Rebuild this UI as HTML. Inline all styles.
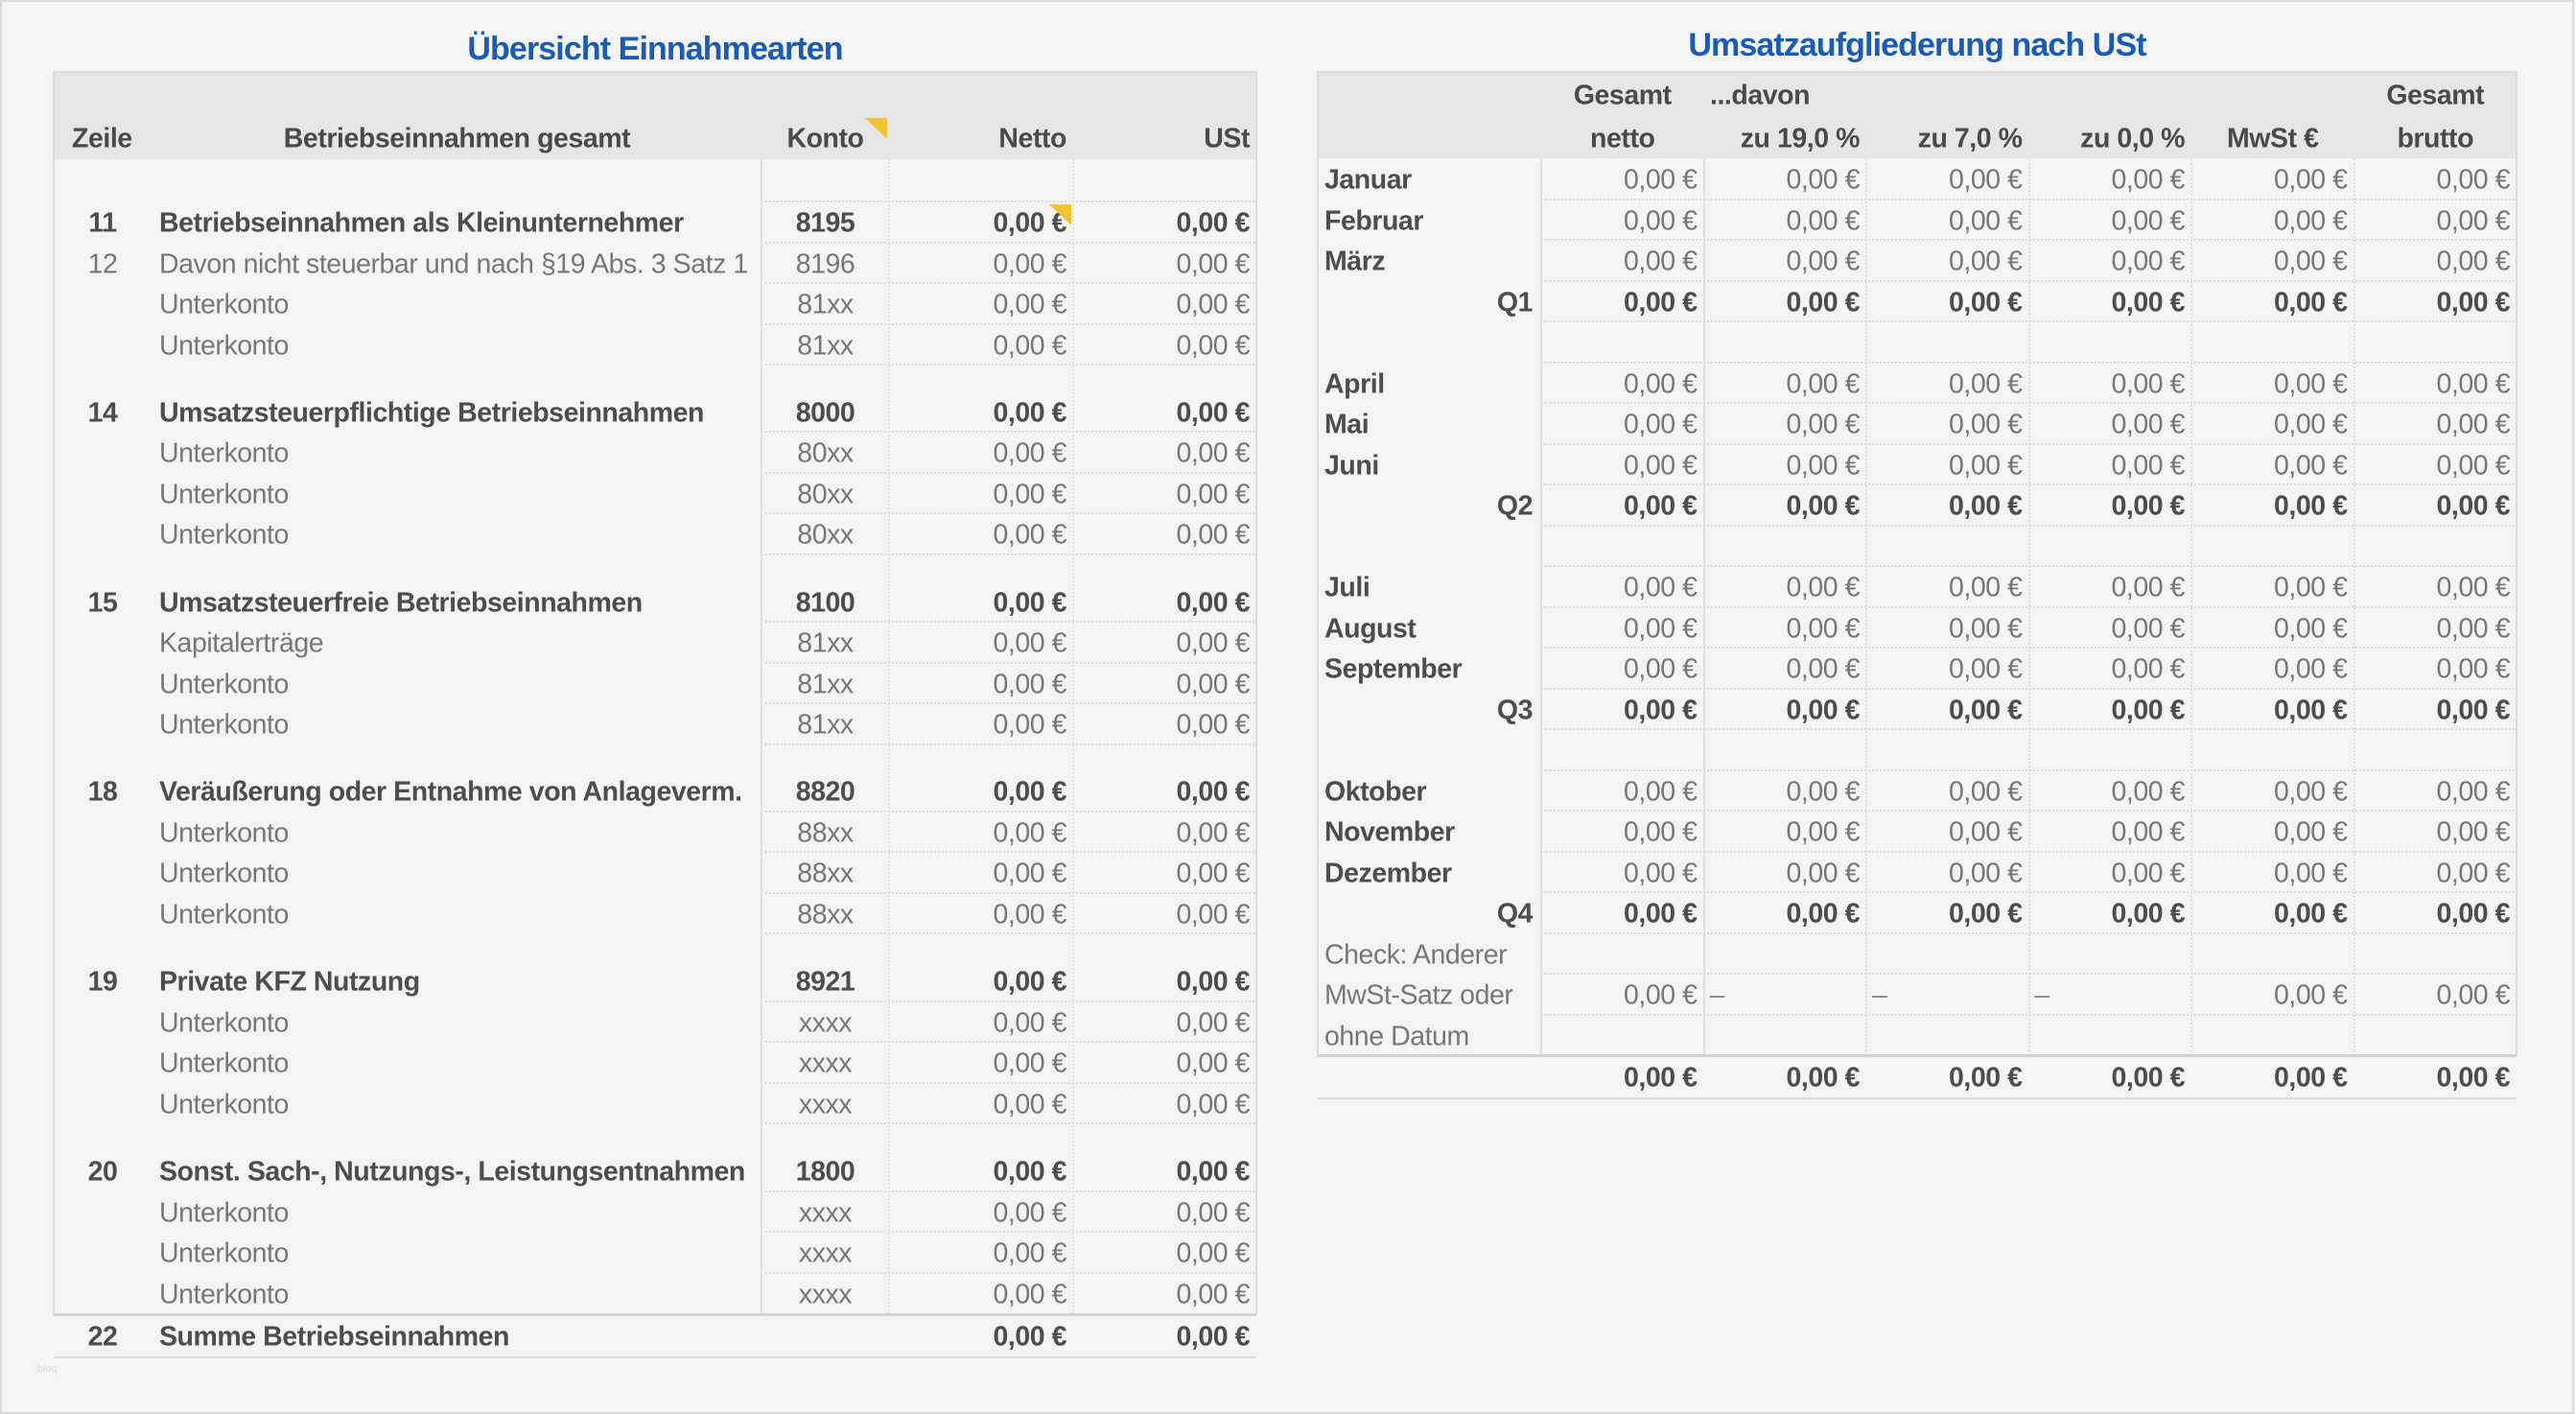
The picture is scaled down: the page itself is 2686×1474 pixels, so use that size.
<!DOCTYPE html>
<html lang="de">
<head>
<meta charset="utf-8">
<title>Übersicht Einnahmearten / Umsatzaufgliederung</title>
<style>
  html,body{margin:0;padding:0;}
  body{width:2686px;height:1474px;background:#f4f4f4;position:relative;overflow:hidden;
       font-family:"Liberation Sans",Arial,sans-serif;}
  .a{position:absolute;}
  .frame{position:absolute;left:0;top:0;width:2684px;height:1474px;box-sizing:border-box;border:2px solid #dadada;}
  .title{position:absolute;top:27px;height:40px;line-height:40px;font-size:34px;font-weight:bold;color:#1a5bb5;
         letter-spacing:-0.9px;text-align:center;white-space:nowrap;}
  .hdrbg{position:absolute;background:#e6e6e6;}
  .box{position:absolute;box-sizing:border-box;border:2px solid #dcdcdc;border-bottom:none;}
  .hl{position:absolute;height:0;border-top:2px solid #d3d3d3;}
  .hl2{position:absolute;height:0;border-top:2px solid #dcdcdc;}
  .dot{position:absolute;height:0;border-top:2px dotted #dcdcdc;}
  .vs{position:absolute;width:0;border-left:2px solid #e0e0e0;}
  .vd{position:absolute;width:0;border-left:2px dotted #e0e0e0;}
  .tri{position:absolute;width:0;height:0;border-top:22px solid #f4c233;border-left:23px solid transparent;}

  .L,.R,.H{position:absolute;height:42.5px;line-height:42.5px;font-size:28.5px;letter-spacing:-0.45px;white-space:nowrap;
     transform:translateY(1.5px);}
  .L{left:56px;width:1254px;display:grid;grid-template-columns:110px 628px 133px 192px 191px;}
  .R{left:1374px;width:1250px;display:grid;grid-template-columns:233px repeat(6,169.5px);}
  .L span,.R span{display:block;box-sizing:border-box;overflow:visible;}
  .z{text-align:center;padding-right:8px;}
  .k{text-align:center;}
  .v{text-align:right;padding-right:7px;}
  .ml{padding-left:7px;}
  .ql{text-align:right;padding-right:9px;}
  .rv{text-align:right;padding-right:7px;}
  .dl{padding-left:6px;color:#8a8a8a !important;font-weight:normal;}
  .b{font-weight:bold;color:#4d4d4d;}
  .n{color:#777;}
  .H span{position:absolute;top:0;font-weight:bold;color:#4a4a4a;}
  .H{left:0;width:2686px;}
  .tiny{position:absolute;left:39px;top:1421px;font-size:11px;color:#dcdcdc;}
</style>
</head>
<body>
<div class="frame"></div>

<!-- Titles -->
<div class="title" style="left:56px;width:1254px;top:31px;">Übersicht Einnahmearten</div>
<div class="title" style="left:1374px;width:1250px;">Umsatzaufgliederung nach USt</div>

<!-- ============ LEFT TABLE ============ -->
<div class="hdrbg" style="left:56px;top:75px;width:1254px;height:91px;"></div>
<div class="box" style="left:55px;top:74px;width:1256px;height:1297px;"></div>
<div class="vs" style="left:793px;top:166px;height:1204px;"></div>
<div class="vd" style="left:926px;top:166px;height:1204px;"></div>
<div class="vd" style="left:1118px;top:166px;height:1204px;"></div>
<div class="hl" style="left:56px;top:1369px;width:1254px;border-top-width:3px;"></div>
<div class="hl2" style="left:56px;top:1414px;width:1254px;"></div>

<!-- left dotted row lines -->
<div class="dot" style="left:798px;width:510px;top:209px;"></div>
<div class="dot" style="left:798px;width:510px;top:251.5px;"></div>
<div class="dot" style="left:798px;width:510px;top:294px;"></div>
<div class="dot" style="left:798px;width:510px;top:336.5px;"></div>
<div class="dot" style="left:798px;width:510px;top:379px;"></div>
<div class="dot" style="left:798px;width:510px;top:449.3px;"></div>
<div class="dot" style="left:798px;width:510px;top:491.8px;"></div>
<div class="dot" style="left:798px;width:510px;top:534.3px;"></div>
<div class="dot" style="left:798px;width:510px;top:576.8px;"></div>
<div class="dot" style="left:798px;width:510px;top:647.1px;"></div>
<div class="dot" style="left:798px;width:510px;top:689.6px;"></div>
<div class="dot" style="left:798px;width:510px;top:732.1px;"></div>
<div class="dot" style="left:798px;width:510px;top:774.6px;"></div>
<div class="dot" style="left:798px;width:510px;top:844.9px;"></div>
<div class="dot" style="left:798px;width:510px;top:887.4px;"></div>
<div class="dot" style="left:798px;width:510px;top:929.9px;"></div>
<div class="dot" style="left:798px;width:510px;top:972.4px;"></div>
<div class="dot" style="left:798px;width:510px;top:1042.7px;"></div>
<div class="dot" style="left:798px;width:510px;top:1085.2px;"></div>
<div class="dot" style="left:798px;width:510px;top:1127.7px;"></div>
<div class="dot" style="left:798px;width:510px;top:1170.2px;"></div>
<div class="dot" style="left:798px;width:510px;top:1240.5px;"></div>
<div class="dot" style="left:798px;width:510px;top:1283px;"></div>
<div class="dot" style="left:798px;width:510px;top:1325.5px;"></div>

<!-- left header -->
<div class="H" style="top:121.5px;">
  <span style="left:75px;">Zeile</span>
  <span style="left:166px;width:621px;text-align:center;">Betriebseinnahmen gesamt</span>
  <span style="left:794px;width:133px;text-align:center;">Konto</span>
  <span style="left:927px;width:185px;text-align:right;">Netto</span>
  <span style="left:1119px;width:184px;text-align:right;">USt</span>
</div>
<div class="tri" style="left:902px;top:123px;"></div>

<!-- Group 1 -->
<div class="L" style="top:210px"><span class="z b">11</span><span class="b">Betriebseinnahmen als Kleinunternehmer</span><span class="k b">8195</span><span class="v b">0,00 €</span><span class="v b">0,00 €</span></div>
<div class="tri" style="left:1094px;top:213px;"></div>
<div class="L" style="top:252.5px"><span class="z n">12</span><span class="n">Davon nicht steuerbar und nach §19 Abs. 3 Satz 1</span><span class="k n">8196</span><span class="v n">0,00 €</span><span class="v n">0,00 €</span></div>
<div class="L" style="top:295px"><span></span><span class="n">Unterkonto</span><span class="k n">81xx</span><span class="v n">0,00 €</span><span class="v n">0,00 €</span></div>
<div class="L" style="top:337.5px"><span></span><span class="n">Unterkonto</span><span class="k n">81xx</span><span class="v n">0,00 €</span><span class="v n">0,00 €</span></div>

<!-- Group 2 -->
<div class="L" style="top:407.8px"><span class="z b">14</span><span class="b">Umsatzsteuerpflichtige Betriebseinnahmen</span><span class="k b">8000</span><span class="v b">0,00 €</span><span class="v b">0,00 €</span></div>
<div class="L" style="top:450.3px"><span></span><span class="n">Unterkonto</span><span class="k n">80xx</span><span class="v n">0,00 €</span><span class="v n">0,00 €</span></div>
<div class="L" style="top:492.8px"><span></span><span class="n">Unterkonto</span><span class="k n">80xx</span><span class="v n">0,00 €</span><span class="v n">0,00 €</span></div>
<div class="L" style="top:535.3px"><span></span><span class="n">Unterkonto</span><span class="k n">80xx</span><span class="v n">0,00 €</span><span class="v n">0,00 €</span></div>

<!-- Group 3 -->
<div class="L" style="top:605.6px"><span class="z b">15</span><span class="b">Umsatzsteuerfreie Betriebseinnahmen</span><span class="k b">8100</span><span class="v b">0,00 €</span><span class="v b">0,00 €</span></div>
<div class="L" style="top:648.1px"><span></span><span class="n">Kapitalerträge</span><span class="k n">81xx</span><span class="v n">0,00 €</span><span class="v n">0,00 €</span></div>
<div class="L" style="top:690.6px"><span></span><span class="n">Unterkonto</span><span class="k n">81xx</span><span class="v n">0,00 €</span><span class="v n">0,00 €</span></div>
<div class="L" style="top:733.1px"><span></span><span class="n">Unterkonto</span><span class="k n">81xx</span><span class="v n">0,00 €</span><span class="v n">0,00 €</span></div>

<!-- Group 4 -->
<div class="L" style="top:803.4px"><span class="z b">18</span><span class="b">Veräußerung oder Entnahme von Anlageverm.</span><span class="k b">8820</span><span class="v b">0,00 €</span><span class="v b">0,00 €</span></div>
<div class="L" style="top:845.9px"><span></span><span class="n">Unterkonto</span><span class="k n">88xx</span><span class="v n">0,00 €</span><span class="v n">0,00 €</span></div>
<div class="L" style="top:888.4px"><span></span><span class="n">Unterkonto</span><span class="k n">88xx</span><span class="v n">0,00 €</span><span class="v n">0,00 €</span></div>
<div class="L" style="top:930.9px"><span></span><span class="n">Unterkonto</span><span class="k n">88xx</span><span class="v n">0,00 €</span><span class="v n">0,00 €</span></div>

<!-- Group 5 -->
<div class="L" style="top:1001.2px"><span class="z b">19</span><span class="b">Private KFZ Nutzung</span><span class="k b">8921</span><span class="v b">0,00 €</span><span class="v b">0,00 €</span></div>
<div class="L" style="top:1043.7px"><span></span><span class="n">Unterkonto</span><span class="k n">xxxx</span><span class="v n">0,00 €</span><span class="v n">0,00 €</span></div>
<div class="L" style="top:1086.2px"><span></span><span class="n">Unterkonto</span><span class="k n">xxxx</span><span class="v n">0,00 €</span><span class="v n">0,00 €</span></div>
<div class="L" style="top:1128.7px"><span></span><span class="n">Unterkonto</span><span class="k n">xxxx</span><span class="v n">0,00 €</span><span class="v n">0,00 €</span></div>

<!-- Group 6 -->
<div class="L" style="top:1199px"><span class="z b">20</span><span class="b">Sonst. Sach-, Nutzungs-, Leistungsentnahmen</span><span class="k b">1800</span><span class="v b">0,00 €</span><span class="v b">0,00 €</span></div>
<div class="L" style="top:1241.5px"><span></span><span class="n">Unterkonto</span><span class="k n">xxxx</span><span class="v n">0,00 €</span><span class="v n">0,00 €</span></div>
<div class="L" style="top:1284px"><span></span><span class="n">Unterkonto</span><span class="k n">xxxx</span><span class="v n">0,00 €</span><span class="v n">0,00 €</span></div>
<div class="L" style="top:1326.5px"><span></span><span class="n">Unterkonto</span><span class="k n">xxxx</span><span class="v n">0,00 €</span><span class="v n">0,00 €</span></div>

<!-- Summe -->
<div class="L" style="top:1371px"><span class="z b">22</span><span class="b">Summe Betriebseinnahmen</span><span></span><span class="v b">0,00 €</span><span class="v b">0,00 €</span></div>

<div class="tiny">blog</div>

<!-- ============ RIGHT TABLE ============ -->
<div class="hdrbg" style="left:1374px;top:75px;width:1250px;height:90px;"></div>
<div class="box" style="left:1373px;top:74px;width:1252px;height:1027px;"></div>
<div class="vs" style="left:1606px;top:165px;height:935px;"></div>
<div class="vs" style="left:1775.5px;top:165px;height:935px;"></div>
<div class="vd" style="left:1945px;top:165px;height:935px;"></div>
<div class="vd" style="left:2114.5px;top:165px;height:935px;"></div>
<div class="vd" style="left:2284px;top:165px;height:935px;"></div>
<div class="vd" style="left:2453.5px;top:165px;height:935px;"></div>
<div class="hl" style="left:1374px;top:1099px;width:1250px;border-top-width:3px;"></div>
<div class="hl2" style="left:1374px;top:1144px;width:1250px;"></div>

<!-- right dotted row lines -->
<div class="dot" style="left:1609px;width:1013px;top:206.5px;"></div>
<div class="dot" style="left:1609px;width:1013px;top:249px;"></div>
<div class="dot" style="left:1609px;width:1013px;top:291.5px;"></div>
<div class="dot" style="left:1609px;width:1013px;top:334px;"></div>
<div class="dot" style="left:1609px;width:1013px;top:376.5px;"></div>
<div class="dot" style="left:1609px;width:1013px;top:419px;"></div>
<div class="dot" style="left:1609px;width:1013px;top:461.5px;"></div>
<div class="dot" style="left:1609px;width:1013px;top:504px;"></div>
<div class="dot" style="left:1609px;width:1013px;top:546.5px;"></div>
<div class="dot" style="left:1609px;width:1013px;top:589px;"></div>
<div class="dot" style="left:1609px;width:1013px;top:631.5px;"></div>
<div class="dot" style="left:1609px;width:1013px;top:674px;"></div>
<div class="dot" style="left:1609px;width:1013px;top:716.5px;"></div>
<div class="dot" style="left:1609px;width:1013px;top:759px;"></div>
<div class="dot" style="left:1609px;width:1013px;top:801.5px;"></div>
<div class="dot" style="left:1609px;width:1013px;top:844px;"></div>
<div class="dot" style="left:1609px;width:1013px;top:886.5px;"></div>
<div class="dot" style="left:1609px;width:1013px;top:929px;"></div>
<div class="dot" style="left:1609px;width:1013px;top:971.5px;"></div>
<div class="dot" style="left:1609px;width:1013px;top:1014px;"></div>
<div class="dot" style="left:1609px;width:1013px;top:1056.5px;"></div>

<!-- right header -->
<div class="H" style="top:77px;">
  <span style="left:1607px;width:169.5px;text-align:center;">Gesamt</span>
  <span style="left:1783px;">...davon</span>
  <span style="left:2454.5px;width:169.5px;text-align:center;">Gesamt</span>
</div>
<div class="H" style="top:121.5px;">
  <span style="left:1607px;width:169.5px;text-align:center;">netto</span>
  <span style="left:1776.5px;width:162.5px;text-align:right;">zu 19,0 %</span>
  <span style="left:1946px;width:162.5px;text-align:right;">zu 7,0 %</span>
  <span style="left:2115.5px;width:162.5px;text-align:right;">zu 0,0 %</span>
  <span style="left:2285px;width:169.5px;text-align:center;">MwSt €</span>
  <span style="left:2454.5px;width:169.5px;text-align:center;">brutto</span>
</div>

<!-- right rows -->
<div class="R" style="top:165px"><span class="ml b">Januar</span><span class="rv n">0,00 €</span><span class="rv n">0,00 €</span><span class="rv n">0,00 €</span><span class="rv n">0,00 €</span><span class="rv n">0,00 €</span><span class="rv n">0,00 €</span></div>
<div class="R" style="top:207.5px"><span class="ml b">Februar</span><span class="rv n">0,00 €</span><span class="rv n">0,00 €</span><span class="rv n">0,00 €</span><span class="rv n">0,00 €</span><span class="rv n">0,00 €</span><span class="rv n">0,00 €</span></div>
<div class="R" style="top:250px"><span class="ml b">März</span><span class="rv n">0,00 €</span><span class="rv n">0,00 €</span><span class="rv n">0,00 €</span><span class="rv n">0,00 €</span><span class="rv n">0,00 €</span><span class="rv n">0,00 €</span></div>
<div class="R" style="top:292.5px"><span class="ql b">Q1</span><span class="rv b">0,00 €</span><span class="rv b">0,00 €</span><span class="rv b">0,00 €</span><span class="rv b">0,00 €</span><span class="rv b">0,00 €</span><span class="rv b">0,00 €</span></div>

<div class="R" style="top:377.5px"><span class="ml b">April</span><span class="rv n">0,00 €</span><span class="rv n">0,00 €</span><span class="rv n">0,00 €</span><span class="rv n">0,00 €</span><span class="rv n">0,00 €</span><span class="rv n">0,00 €</span></div>
<div class="R" style="top:420px"><span class="ml b">Mai</span><span class="rv n">0,00 €</span><span class="rv n">0,00 €</span><span class="rv n">0,00 €</span><span class="rv n">0,00 €</span><span class="rv n">0,00 €</span><span class="rv n">0,00 €</span></div>
<div class="R" style="top:462.5px"><span class="ml b">Juni</span><span class="rv n">0,00 €</span><span class="rv n">0,00 €</span><span class="rv n">0,00 €</span><span class="rv n">0,00 €</span><span class="rv n">0,00 €</span><span class="rv n">0,00 €</span></div>
<div class="R" style="top:505px"><span class="ql b">Q2</span><span class="rv b">0,00 €</span><span class="rv b">0,00 €</span><span class="rv b">0,00 €</span><span class="rv b">0,00 €</span><span class="rv b">0,00 €</span><span class="rv b">0,00 €</span></div>

<div class="R" style="top:590px"><span class="ml b">Juli</span><span class="rv n">0,00 €</span><span class="rv n">0,00 €</span><span class="rv n">0,00 €</span><span class="rv n">0,00 €</span><span class="rv n">0,00 €</span><span class="rv n">0,00 €</span></div>
<div class="R" style="top:632.5px"><span class="ml b">August</span><span class="rv n">0,00 €</span><span class="rv n">0,00 €</span><span class="rv n">0,00 €</span><span class="rv n">0,00 €</span><span class="rv n">0,00 €</span><span class="rv n">0,00 €</span></div>
<div class="R" style="top:675px"><span class="ml b">September</span><span class="rv n">0,00 €</span><span class="rv n">0,00 €</span><span class="rv n">0,00 €</span><span class="rv n">0,00 €</span><span class="rv n">0,00 €</span><span class="rv n">0,00 €</span></div>
<div class="R" style="top:717.5px"><span class="ql b">Q3</span><span class="rv b">0,00 €</span><span class="rv b">0,00 €</span><span class="rv b">0,00 €</span><span class="rv b">0,00 €</span><span class="rv b">0,00 €</span><span class="rv b">0,00 €</span></div>

<div class="R" style="top:802.5px"><span class="ml b">Oktober</span><span class="rv n">0,00 €</span><span class="rv n">0,00 €</span><span class="rv n">0,00 €</span><span class="rv n">0,00 €</span><span class="rv n">0,00 €</span><span class="rv n">0,00 €</span></div>
<div class="R" style="top:845px"><span class="ml b">November</span><span class="rv n">0,00 €</span><span class="rv n">0,00 €</span><span class="rv n">0,00 €</span><span class="rv n">0,00 €</span><span class="rv n">0,00 €</span><span class="rv n">0,00 €</span></div>
<div class="R" style="top:887.5px"><span class="ml b">Dezember</span><span class="rv n">0,00 €</span><span class="rv n">0,00 €</span><span class="rv n">0,00 €</span><span class="rv n">0,00 €</span><span class="rv n">0,00 €</span><span class="rv n">0,00 €</span></div>
<div class="R" style="top:930px"><span class="ql b">Q4</span><span class="rv b">0,00 €</span><span class="rv b">0,00 €</span><span class="rv b">0,00 €</span><span class="rv b">0,00 €</span><span class="rv b">0,00 €</span><span class="rv b">0,00 €</span></div>

<div class="R" style="top:972.5px"><span class="ml n">Check: Anderer</span></div>
<div class="R" style="top:1015px"><span class="ml n">MwSt-Satz oder</span><span class="rv n">0,00 €</span><span class="dl">–</span><span class="dl">–</span><span class="dl">–</span><span class="rv n">0,00 €</span><span class="rv n">0,00 €</span></div>
<div class="R" style="top:1057.5px"><span class="ml n">ohne Datum</span></div>

<div class="R" style="top:1101px"><span></span><span class="rv b">0,00 €</span><span class="rv b">0,00 €</span><span class="rv b">0,00 €</span><span class="rv b">0,00 €</span><span class="rv b">0,00 €</span><span class="rv b">0,00 €</span></div>

</body>
</html>
